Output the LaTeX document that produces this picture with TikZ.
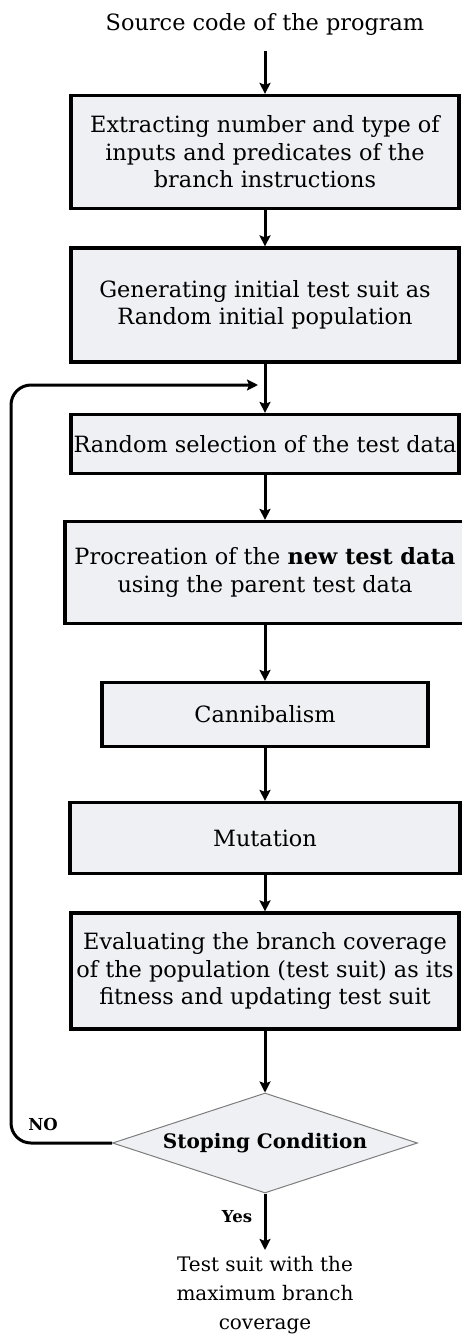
\documentclass[tikz,border=0pt]{standalone}
\usepackage{fontspec}
\setmainfont{DejaVu Serif}
\usetikzlibrary{shapes.geometric,arrows.meta}
\definecolor{boxfill}{RGB}{238,240,243}
\definecolor{diaedge}{RGB}{125,125,125}
\begin{document}
\begin{tikzpicture}[x=1pt,y=-1pt,
  stepbox/.style={draw, line width=3.2pt, fill=boxfill, inner sep=0pt, align=center,
    font=\fontsize{22.4}{27.5}\selectfont},
  conn/.style={line width=3pt, -{Stealth[length=11pt,width=11pt,inset=2pt]}},
  plaintext/.style={inner sep=0pt, align=center, font=\fontsize{22.4}{27.5}\selectfont},
  smallbold/.style={inner sep=0pt, font=\fontsize{16.5}{19}\selectfont\bfseries},
  decision/.style={diamond, draw=diaedge, line width=1pt, fill=boxfill, inner sep=0pt,
    aspect=3.05, minimum width=305pt, minimum height=100pt,
    font=\fontsize{20}{23}\selectfont\bfseries}]
\useasboundingbox (0,0) rectangle (461,1337);

\node[plaintext, anchor=base] (src) at (265,31) {Source code of the program};

\node[stepbox, minimum width=388pt, minimum height=113pt] (b1) at (265,152)
  {Extracting number and type of\\inputs and predicates of the\\branch instructions};
\node[stepbox, minimum width=388pt, minimum height=114pt] (b2) at (265,305)
  {Generating initial test suit as\\Random initial population};
\node[stepbox, minimum width=388pt, minimum height=59pt] (b3) at (265,444)
  {Random selection of the test data};
\node[stepbox, minimum width=400pt, minimum height=102pt] (b4) at (265,572.5)
  {Procreation of the \textbf{new test data}\\using the parent test data};
\node[stepbox, minimum width=326pt, minimum height=64pt] (b5) at (265,714.5)
  {Cannibalism};
\node[stepbox, minimum width=390pt, minimum height=71pt] (b6) at (265,838)
  {Mutation};
\node[stepbox, minimum width=388pt, minimum height=116pt] (b7) at (265,971)
  {Evaluating the branch coverage\\of the population (test suit) as its\\fitness and updating test suit};
\node[decision] (dia) at (265,1143) {Stoping Condition};
\node[plaintext, font=\fontsize{20}{29}\selectfont] (out) at (265,1295)
  {Test suit with the\\maximum branch\\coverage};

\node[smallbold] (no) at (43,1124) {NO};
\node[smallbold] (yes) at (237,1217) {Yes};

\coordinate (loopend) at (258,385);
\coordinate (lbot) at (11,1143);
\coordinate (ltop) at (11,385);

\draw[conn, shorten <=15pt] (src.south) -- (b1.north);
\draw[conn] (b1.south) -- (b2.north);
\draw[conn] (b2.south) -- (b3.north);
\draw[conn] (b3.south) -- (b4.north);
\draw[conn] (b4.south) -- (b5.north);
\draw[conn] (b5.south) -- (b6.north);
\draw[conn] (b6.south) -- (b7.north);
\draw[conn] (b7.south) -- (dia.north);
\draw[conn, shorten >=6pt] (dia.south) -- (out.north);
\draw[conn, rounded corners=20pt] (dia.west) -- (lbot) -- (ltop) -- (loopend);
\end{tikzpicture}
\end{document}
